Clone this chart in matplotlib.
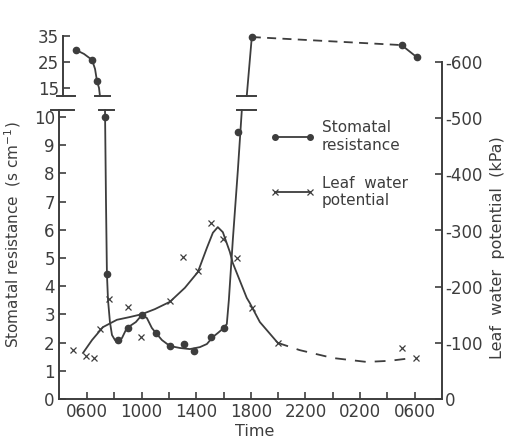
import numpy as np
import matplotlib.pyplot as plt
from matplotlib.lines import Line2D

plt.rcParams['font.family'] = ['DejaVu Sans']
plt.rcParams['axes.unicode_minus'] = False

INK = '#3d3d3d'

# time in hours from midnight of day 1 (30 = 0600 next day)
# stomatal resistance, s cm-1 : measured points
sr_hi_t = [5.20, 6.37, 6.73]
sr_hi_v = [29.6, 25.8, 17.7]
sr_lo_t = [7.32, 7.46, 8.27, 9.00, 10.02, 11.05, 12.07, 13.10, 13.83, 15.07, 16.02, 17.05]
sr_lo_v = [10.0, 4.43, 2.09, 2.52, 2.98, 2.34, 1.88, 1.95, 1.70, 2.20, 2.52, 9.47]
sr_top_t = [18.07, 29.04, 30.14]
sr_top_v = [34.6, 31.5, 26.9]

# stomatal resistance : drawn curve
sr_c1_t = [5.20, 5.78, 6.37, 6.59, 6.73, 6.88, 6.95]
sr_c1_v = [29.6, 28.1, 25.8, 22.3, 17.7, 15.0, 11.9]
sr_c2_t = [7.32, 7.39, 7.46, 7.54, 7.68, 7.83, 8.05, 8.27, 8.56, 8.85, 9.15, 9.58, 10.02,
           10.39, 10.75, 11.05, 11.49, 12.07, 12.80, 13.53, 14.27, 14.78, 15.22, 15.58,
           16.02, 16.24, 16.39, 16.68, 17.05, 17.34]
sr_c2_v = [10.25, 7.06, 4.43, 3.51, 2.73, 2.27, 2.09, 2.06, 2.16, 2.45, 2.59, 2.73, 2.98,
           2.87, 2.52, 2.34, 2.09, 1.88, 1.81, 1.77, 1.84, 1.95, 2.20, 2.34,
           2.52, 2.66, 3.51, 5.64, 8.12, 10.25]
sr_c3_t = [17.70, 18.07]
sr_c3_v = [11.9, 34.6]
sr_night_t = [18.07, 29.04]
sr_night_v = [34.6, 31.5]
sr_c4_t = [29.04, 30.14]
sr_c4_v = [31.5, 26.9]

# leaf water potential, kPa : measured points
lwp_t = [4.98, 5.93, 6.51, 6.95, 7.61, 9.00, 9.95, 12.07, 13.02, 14.12, 15.07, 15.95,
         16.97, 18.07, 19.97, 29.04, 30.07]
lwp_v = [-87, -77, -73, -125, -178, -164, -110, -174, -253, -228, -313, -285,
         -251, -162, -100, -91, -73]

# leaf water potential : drawn curve
lwp_c_t = [5.71, 6.37, 7.17, 8.19, 9.15, 10.02, 10.97, 12.07, 13.17, 14.12, 14.78, 15.22,
           15.58, 15.95, 16.46, 16.68, 17.70, 17.92, 18.66, 19.97]
lwp_c_v = [-82, -105, -128, -141, -146, -151, -160, -173, -198, -226, -269, -296,
           -306, -297, -262, -242, -180, -171, -137, -100]
lwp_d_t = [19.97, 21.58, 24.00, 26.48, 28.17, 29.85]
lwp_d_v = [-100, -87, -73, -66, -68, -73]

x_ticks = [6, 10, 14, 18, 22, 26, 30]
x_labels = ['0600', '1000', '1400', '1800', '2200', '0200', '0600']
x_minor = [8, 12, 16, 20, 24, 28]
lo_ticks = list(range(0, 11))
hi_ticks = [15, 25, 35]
kpa_ticks = [0, -100, -200, -300, -400, -500, -600]

W, H = 515, 444
fig = plt.figure(figsize=(W / 100, H / 100), dpi=100)

def box(l, t, r, b):
    return [l / W, 1 - b / H, (r - l) / W, (b - t) / H]

ax = fig.add_axes(box(59, 110, 442, 399))
axu = fig.add_axes(box(59, 36, 442, 96))
axr = fig.add_axes(box(59, 62, 442, 399))
axr.patch.set_visible(False)

XL = (3.95, 32.0)
for a in (ax, axu, axr):
    a.set_xlim(*XL)
    for s in a.spines.values():
        s.set_visible(False)
        s.set_color(INK)
        s.set_linewidth(1.4)
    a.tick_params(colors=INK, labelcolor=INK, labelsize=12, direction='in',
                  width=1.2, length=5)

ax.set_ylim(0, 10.25)
axu.set_ylim(11.9, 35)
axr.set_ylim(0, -600)

# lower axes
ax.spines['left'].set_visible(True)
ax.spines['bottom'].set_visible(True)
ax.set_xticks(x_ticks)
ax.set_xticklabels(x_labels)
ax.set_xticks(x_minor, minor=True)
ax.tick_params(axis='x', which='both', direction='in', length=5, width=1.2, colors=INK, pad=3)
ax.set_yticks(lo_ticks)
ax.tick_params(axis='y', pad=3)
ax.set_xlabel('Time', fontsize=11.5, color=INK)
ax.xaxis.set_label_coords(0.51, -0.088)
ax.set_ylabel('Stomatal resistance  (s cm$^{-1}$)', fontsize=11, color=INK)
ax.yaxis.set_label_coords(-0.093, 0.57)

# upper axes
axu.patch.set_visible(False)
axu.spines['left'].set_visible(True)
axu.spines['left'].set_position(('outward', -3))
axu.set_xticks([])
axu.set_yticks(hi_ticks)
axu.tick_params(axis='y', pad=3)

# right axes
axr.spines['right'].set_visible(True)
axr.yaxis.tick_right()
axr.set_xticks([])
axr.set_yticks(kpa_ticks)
axr.set_yticklabels(['0'] + ['-%d' % -v for v in kpa_ticks[1:]])
axr.tick_params(axis='y', direction='in', length=5, pad=2)
axr.yaxis.set_label_position('right')
axr.set_ylabel('Leaf  water  potential  (kPa)', fontsize=11.5, color=INK)
axr.yaxis.set_label_coords(1.125, 0.45)

# stomatal resistance
lw = 1.3
axu.plot(sr_c1_t, sr_c1_v, color=INK, lw=lw, clip_on=False)
axu.plot(sr_c3_t, sr_c3_v, color=INK, lw=lw, clip_on=False)
axu.plot(sr_night_t, sr_night_v, color=INK, lw=lw, ls=(0, (5, 3.5)), clip_on=False)
axu.plot(sr_c4_t, sr_c4_v, color=INK, lw=lw, clip_on=False)
axu.plot(sr_hi_t + sr_top_t, sr_hi_v + sr_top_v, 'o', color=INK, ms=4.5, clip_on=False)
ax.plot(sr_c2_t, sr_c2_v, color=INK, lw=lw, clip_on=False)
ax.plot(sr_lo_t, sr_lo_v, 'o', color=INK, ms=4.5, clip_on=False)

# leaf water potential
axr.plot(lwp_c_t, lwp_c_v, color=INK, lw=lw)
axr.plot(lwp_d_t, lwp_d_v, color=INK, lw=lw, ls=(0, (6, 5)))
axr.plot(lwp_t, lwp_v, 'x', color=INK, ms=4.5, mew=0.9)

# axis break bars
bk = dict(color=INK, lw=1.4, clip_on=False)
axu.plot([-0.005, 0.042], [0, 0], transform=axu.transAxes, **bk)
ax.plot([-0.022, 0.04], [1, 1], transform=ax.transAxes, **bk)
for t0, t1 in [(6.6, 7.7), (16.95, 18.4)]:
    axu.plot([t0, t1], [11.9, 11.9], **bk)
for t0, t1 in [(6.85, 7.95), (16.95, 18.4)]:
    ax.plot([t0, t1], [10.25, 10.25], **bk)

handles = [Line2D([], [], color=INK, lw=lw, marker='o', ms=4),
           Line2D([], [], color=INK, lw=lw, marker='x', ms=4, mew=0.9)]
leg = ax.legend(handles, ['Stomatal\nresistance', 'Leaf  water\npotential'],
                loc='upper left', bbox_to_anchor=(0.515, 1.012), frameon=False,
                numpoints=2, handlelength=2.95, handletextpad=0.45,
                labelspacing=1.5, fontsize=11)
for t in leg.get_texts():
    t.set_color(INK)

fig.savefig('out.png', dpi=100)
